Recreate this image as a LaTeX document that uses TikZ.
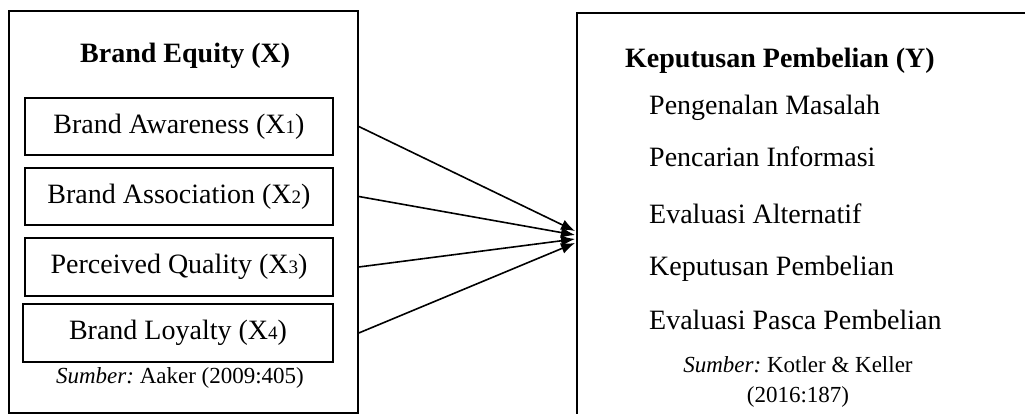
\documentclass[tikz,border=0pt]{standalone}
\usepackage{fontspec}
\setmainfont{Liberation Serif}
\usetikzlibrary{arrows.meta, positioning, calc}
\frenchspacing
\newcommand{\xidx}[1]{{\fontsize{19}{19}\selectfont #1}}

\begin{document}
\begin{tikzpicture}[x=1pt,y=-1pt,
		frame/.style={draw,line width=1.6pt,inner sep=0pt},
		dimbox/.style={frame,minimum width=308pt,minimum height=57pt,font=\fontsize{28}{32}\selectfont},
		title/.style={anchor=base west,inner sep=0pt,font=\fontsize{28}{32}\selectfont\bfseries},
		item/.style={anchor=base west,inner sep=0pt,font=\fontsize{28}{32}\selectfont},
		source/.style={anchor=base,inner sep=0pt,font=\fontsize{23}{26}\selectfont},
		link/.style={line width=1.6pt,-{Latex[length=14pt,width=11pt]}}]
		\clip (0,0) rectangle (1025,414);
		
		% variabel X
		\node[frame,minimum width=349pt,minimum height=402pt] (equity) at (183.5,212) {};
		\node[title] (equitytitle) at (80,63) {Brand Equity (X)};
		\node[dimbox] (aware) at (179,126.5) {Brand Awareness (X\xidx{1})};
		\node[dimbox] (assoc) at (179,196.5) {Brand Association (X\xidx{2})};
		\node[dimbox,minimum height=58pt] (quality) at (179,267) {Perceived Quality (X\xidx{3})};
		\node[dimbox,minimum width=310pt,minimum height=58pt] (loyal) at (178,333) {Brand Loyalty (X\xidx{4})};
		\node[source] (srcx) at (180,383) {\textit{Sumber:} Aaker (2009:405)};
		
		% variabel Y
		\node[frame,minimum width=463pt,minimum height=407pt] (decision) at (808.5,216.5) {};
		\node[title] (decisiontitle) at (625,68) {Keputusan Pembelian (Y)};
		\node[item] (need) at (649,115) {Pengenalan Masalah};
		\node[item] (search) at (649,167) {Pencarian Informasi};
		\node[item] (alt) at (649,223) {Evaluasi Alternatif};
		\node[item] (buy) at (649,275) {Keputusan Pembelian};
		\node[item] (post) at (649,329) {Evaluasi Pasca Pembelian};
		\node[source] (srcy) at (798,372) {\textit{Sumber:} Kotler \& Keller};
		\node[source] (srcyear) at (798,402) {(2016:187)};
		
		\coordinate (in1) at (575,231);
		\coordinate (in2) at (575,235);
		\coordinate (in3) at (575,239);
		\coordinate (in4) at (575,243);
		
		\draw[link] (aware -| equity.east) -- (in1);
		\draw[link] (assoc -| equity.east) -- (in2);
		\draw[link] (quality -| equity.east) -- (in3);
		\draw[link] (loyal -| equity.east) -- (in4);
		
\end{tikzpicture}
\end{document}
